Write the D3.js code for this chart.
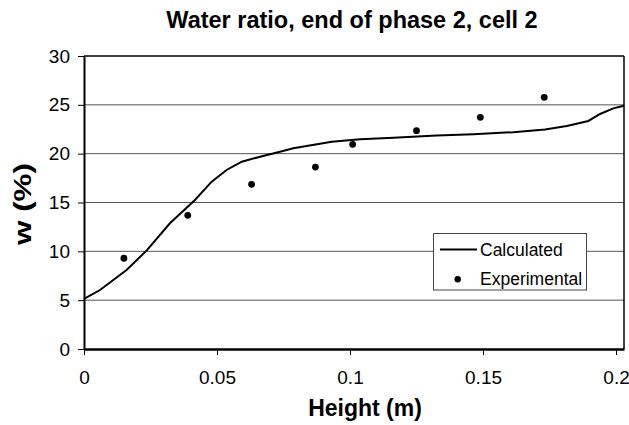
<!DOCTYPE html>
<html><head><meta charset="utf-8">
<script src="https://cdn.jsdelivr.net/npm/d3@7"></script>
<style>
html,body{margin:0;padding:0;background:#fff;}
svg{display:block;font-family:"Liberation Sans",Arial,sans-serif;}
</style></head>
<body>
<svg id="chart" width="629" height="425"></svg>
<script>
const calcX = [0, 0.006, 0.016, 0.0236, 0.0323, 0.0417, 0.048, 0.0536, 0.0593, 0.0662, 0.0737, 0.0787, 0.0931, 0.1038, 0.1163, 0.1326, 0.1464, 0.1614, 0.1733, 0.1815, 0.1896, 0.194, 0.199, 0.203];
const calcY = [5.12, 6.04, 8.09, 10.1, 12.87, 15.26, 17.13, 18.33, 19.18, 19.69, 20.2, 20.55, 21.23, 21.47, 21.63, 21.87, 22.0, 22.2, 22.48, 22.83, 23.35, 24.06, 24.64, 24.9];
const expX = [0.015, 0.039, 0.063, 0.087, 0.101, 0.125, 0.149, 0.173];
const expY = [9.29, 13.69, 16.86, 18.63, 20.96, 22.35, 23.72, 25.77];
const xTicks = [0, 0.05, 0.1, 0.15, 0.2];
const xTickLabels = ["0", "0.05", "0.1", "0.15", "0.2"];
const yTicks = [0, 5, 10, 15, 20, 25, 30];
const titleText = "Water ratio, end of phase 2, cell 2";
const xTitle = "Height (m)";
const yTitle = "w (%)";
const seriesNames = ["Calculated", "Experimental"];

const svg = d3.select("#chart");
const L = 84, R = 624, T = 56, B = 349;
const x = d3.scaleLinear().domain([0, 0.203]).range([L, R]);
const y = d3.scaleLinear().domain([0, 30]).range([B, T]);

// gridlines
svg.append("g").selectAll("line").data(yTicks.filter(d => d > 0 && d < 30)).join("line")
  .attr("x1", L).attr("x2", R).attr("y1", d => y(d)).attr("y2", d => y(d))
  .attr("stroke", "#555").attr("stroke-width", 1);

// border top and right
svg.append("line").attr("x1", L).attr("x2", R).attr("y1", y(30)).attr("y2", y(30)).attr("stroke", "#000").attr("stroke-width", 1.5);
svg.append("line").attr("x1", R).attr("x2", R).attr("y1", T).attr("y2", B).attr("stroke", "#000").attr("stroke-width", 1.5);

// axes
const xAxis = d3.axisBottom(x).tickValues(xTicks).tickFormat((d, i) => xTickLabels[i]).tickSize(6).tickSizeOuter(0).tickPadding(16);
const gx = svg.append("g").attr("transform", `translate(0,${B})`).call(xAxis);
gx.select(".domain").attr("stroke-width", 2.5);
gx.selectAll(".tick line").attr("stroke-width", 1);
gx.selectAll("text").attr("font-size", 19).attr("fill", "#000").attr("font-family", "Liberation Sans, Arial, sans-serif");

const yAxis = d3.axisLeft(y).tickValues(yTicks).tickFormat(d3.format("d")).tickSize(6).tickSizeOuter(0).tickPadding(8);
const gy = svg.append("g").attr("transform", `translate(${L},0)`).call(yAxis);
gy.select(".domain").attr("stroke-width", 2);
gy.selectAll("text").attr("font-size", 19).attr("fill", "#000").attr("font-family", "Liberation Sans, Arial, sans-serif");

// calculated line
const line = d3.line().x(d => x(d[0])).y(d => y(d[1]));
svg.append("path").datum(calcX.map((v, i) => [v, calcY[i]]))
  .attr("d", line).attr("fill", "none").attr("stroke", "#000").attr("stroke-width", 2);

// experimental points
svg.append("g").selectAll("circle").data(expX.map((v, i) => [v, expY[i]])).join("circle")
  .attr("cx", d => x(d[0])).attr("cy", d => y(d[1])).attr("r", 3.4).attr("fill", "#000");

// title
svg.append("text").attr("x", 352).attr("y", 28).attr("text-anchor", "middle")
  .attr("font-size", 23.5).attr("font-weight", "bold").text(titleText);
// x title
svg.append("text").attr("x", 365).attr("y", 416).attr("text-anchor", "middle")
  .attr("font-size", 23).attr("font-weight", "bold").text(xTitle);
// y title
svg.append("text").attr("transform", "translate(31,204) rotate(-90)").attr("text-anchor", "middle")
  .attr("font-size", 23).attr("font-weight", "bold").attr("textLength", 82).attr("lengthAdjust", "spacingAndGlyphs").text(yTitle);

// legend
const lg = svg.append("g");
lg.append("rect").attr("x", 433.5).attr("y", 233.5).attr("width", 153).attr("height", 56.5)
  .attr("fill", "#fff").attr("stroke", "#444").attr("stroke-width", 1);
lg.append("line").attr("x1", 440).attr("x2", 477).attr("y1", 249.5).attr("y2", 249.5).attr("stroke", "#000").attr("stroke-width", 2);
lg.append("circle").attr("cx", 457.7).attr("cy", 279.3).attr("r", 3.2).attr("fill", "#000");
lg.append("text").attr("x", 480).attr("y", 256).attr("font-size", 17.5).text(seriesNames[0]);
lg.append("text").attr("x", 480).attr("y", 285).attr("font-size", 17.5).text(seriesNames[1]);
</script>
</body></html>
